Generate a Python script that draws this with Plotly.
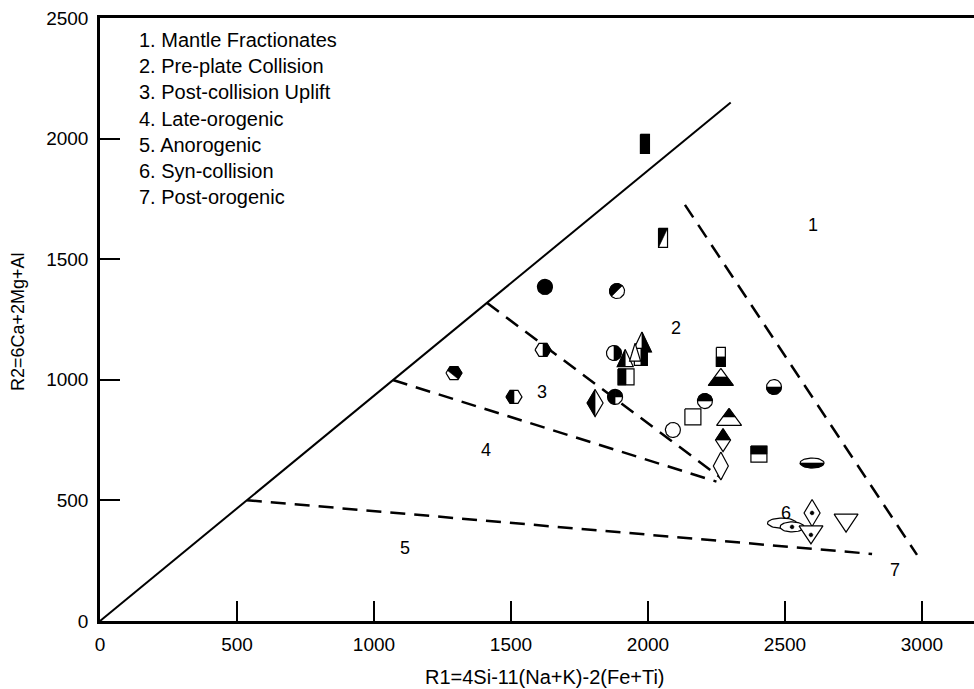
import math
import plotly.graph_objects as go

# ---------------- data ----------------
r1 = [1989, 2055, 1624, 1887, 1617, 1292, 1511, 1807, 1880, 1876,
      1978, 1974, 1917, 1953, 1920,
      2266, 2266, 2208, 2164, 2296, 2274, 2266, 2091, 2460, 2405, 2599,
      2489, 2526, 2599, 2595, 2723]
r2 = [1978, 1588, 1385, 1368, 1124, 1028, 929, 904, 929, 1111,
      1157, 1095, 1090, 1115, 1012,
      1095, 1012, 912, 846, 846, 750, 643, 792, 970, 692, 655,
      406, 390, 448, 357, 406]
symbol = ["rect_tall", "rect_tall", "circle", "circle", "hexagon", "hexagon", "hexagon", "diamond", "circle", "circle",
          "tri", "rect_mid", "tri_m", "tri_s", "square",
          "rect_tall", "tri_wide", "circle", "square", "tri_wide", "diamond_s", "diamond_l", "circle", "circle", "square", "ellipse",
          "ellipse_l", "ellipse", "diamond", "tri_down", "tri_down"]
fill = ["full", "diag_ul", "full", "diag_ul", "right", "diag_ur", "left", "left", "q3", "right",
        "right", "right", "left", "none", "left",
        "bottom", "bottom", "top", "none", "top", "top", "none", "none", "bottom", "top", "bottom",
        "none", "dot", "dot", "dot", "none"]

solid_x = [0, 2302]
solid_y = [0, 2150]
dash_lines_x = [[2135, 2982], [1412, 2270], [1069, 2250], [536, 2818]]
dash_lines_y = [[1725, 274], [1319, 590], [999, 578], [501, 278]]

field_labels = ["1", "2", "3", "4", "5", "6", "7"]
field_x = [2602, 2102, 1613, 1409, 1113, 2503, 2901]
field_y = [1642, 1215, 949, 709, 303, 448, 211]

legend_lines = ["1. Mantle Fractionates", "2. Pre-plate Collision", "3. Post-collision Uplift",
                "4. Late-orogenic", "5. Anorogenic", "6. Syn-collision", "7. Post-orogenic"]

x_ticks = [0, 500, 1000, 1500, 2000, 2500, 3000]
y_ticks = [0, 500, 1000, 1500, 2000, 2500]
x_title = "R1=4Si-11(Na+K)-2(Fe+Ti)"
y_title = "R2=6Ca+2Mg+Al"

# ---------------- layout constants ----------------
W, H = 974, 689
ML, MR, MT, MB = 100, 0, 18, 68
PW, PH = W - ML - MR, H - MT - MB
XMAX, YMAX = 3190, 2500
sx, sy = PW / XMAX, PH / YMAX
FONT = "Liberation Sans, Arial, Helvetica, sans-serif"

SIZES = {"rect_tall": (9, 19), "rect_mid": (13, 17), "square": (16, 16), "circle": (15, 15),
         "hexagon": (16, 13), "diamond": (16, 27), "diamond_s": (15, 23), "diamond_l": (15, 28),
         "tri": (19, 20), "tri_m": (16, 17), "tri_s": (11, 18), "tri_wide": (25, 17),
         "tri_down": (24, 18), "ellipse": (24, 10), "ellipse_l": (29, 10)}


def outline(kind, w, h):
    if kind.startswith("rect") or kind == "square":
        return [(-w / 2, -h / 2), (w / 2, -h / 2), (w / 2, h / 2), (-w / 2, h / 2)]
    if kind.startswith("circle") or kind.startswith("ellipse"):
        return [(w / 2 * math.cos(2 * math.pi * i / 48), h / 2 * math.sin(2 * math.pi * i / 48)) for i in range(48)]
    if kind == "hexagon":
        return [(-w / 2, 0), (-w / 4, -h / 2), (w / 4, -h / 2), (w / 2, 0), (w / 4, h / 2), (-w / 4, h / 2)]
    if kind.startswith("diamond"):
        return [(0, -h / 2), (w / 2, 0), (0, h / 2), (-w / 2, 0)]
    if kind == "tri_down":
        return [(-w / 2, -h / 2), (w / 2, -h / 2), (0, h / 2)]
    return [(0, -h / 2), (w / 2, h / 2), (-w / 2, h / 2)]


def clip(poly, a, b, c):
    out = []
    n = len(poly)
    for i in range(n):
        P, Q = poly[i], poly[(i + 1) % n]
        fp = a * P[0] + b * P[1] - c
        fq = a * Q[0] + b * Q[1] - c
        if fp <= 0:
            out.append(P)
        if fp * fq < 0:
            t = fp / (fp - fq)
            out.append((P[0] + t * (Q[0] - P[0]), P[1] + t * (Q[1] - P[1])))
    return out


def halfplanes(style, w, h):
    if style == "full":
        return [[]]
    if style == "left":
        return [[(1, 0, 0)]]
    if style == "right":
        return [[(-1, 0, 0)]]
    if style == "top":
        return [[(0, 1, 0)]]
    if style == "bottom":
        return [[(0, -1, 0)]]
    if style == "diag_ul":
        return [[(1 / w, 1 / h, 0)]]
    if style == "diag_ur":
        return [[(-1 / w, 1 / h, 0.2)]]
    if style == "q3":
        return [[(1, 0, 0)], [(-1, 0, 0), (0, 1, 0)]]
    return []


def to_data(cx, cy, pts):
    xs = [cx + p[0] / sx for p in pts]
    ys = [cy - p[1] / sy for p in pts]
    return xs + [xs[0]], ys + [ys[0]]


fig = go.Figure()

# boundary lines
fig.add_trace(go.Scatter(x=solid_x, y=solid_y, mode="lines", line=dict(color="black", width=2),
                         hoverinfo="skip"))
for lx, ly in zip(dash_lines_x, dash_lines_y):
    fig.add_trace(go.Scatter(x=lx, y=ly, mode="lines",
                             line=dict(color="black", width=2.5, dash="15px,9px"), hoverinfo="skip"))

# markers
for cx, cy, kind, style in zip(r1, r2, symbol, fill):
    w, h = SIZES[kind]
    base = outline(kind, w, h)
    bx, by = to_data(cx, cy, base)
    fig.add_trace(go.Scatter(x=bx, y=by, mode="lines", fill="toself", fillcolor="white",
                             line=dict(color="black", width=1.2), hoverinfo="skip"))
    for planes in halfplanes(style, w, h):
        poly = base
        for a, b, c in planes:
            poly = clip(poly, a, b, c)
        if len(poly) >= 3:
            px_, py_ = to_data(cx, cy, poly)
            fig.add_trace(go.Scatter(x=px_, y=py_, mode="lines", fill="toself", fillcolor="black",
                                     line=dict(color="black", width=0.6), hoverinfo="skip"))
    if style == "dot":
        dx_, dy_ = to_data(cx, cy, outline("circle", 4, 4))
        fig.add_trace(go.Scatter(x=dx_, y=dy_, mode="lines", fill="toself", fillcolor="black",
                                 line=dict(color="black", width=0.5), hoverinfo="skip"))

# hover points
fig.add_trace(go.Scatter(x=r1, y=r2, mode="markers", marker=dict(size=1, opacity=0), hoverinfo="x+y"))

annotations = []
for t, fx, fy in zip(field_labels, field_x, field_y):
    annotations.append(dict(x=fx, y=fy, xref="x", yref="y", text=t, showarrow=False,
                            font=dict(family=FONT, size=18, color="black")))
for i, t in enumerate(legend_lines):
    py = 40 + 26.2 * i
    annotations.append(dict(x=(137 - ML) / PW, y=(MT + PH - py) / PH, xref="paper", yref="paper",
                            text=t, showarrow=False, xanchor="left", yanchor="middle",
                            font=dict(family=FONT, size=20, color="black")))
annotations.append(dict(x=(545 - ML) / PW, y=(MT + PH - 677) / PH, xref="paper", yref="paper",
                        text=x_title, showarrow=False, xanchor="center", yanchor="middle",
                        font=dict(family=FONT, size=20, color="black")))
annotations.append(dict(x=(18 - ML) / PW, y=(MT + PH - 322) / PH, xref="paper", yref="paper",
                        text=y_title, showarrow=False, textangle=-90, xanchor="center", yanchor="middle",
                        font=dict(family=FONT, size=18, color="black")))

fig.update_layout(
    width=W, height=H, margin=dict(l=ML, r=MR, t=MT, b=MB),
    plot_bgcolor="white", paper_bgcolor="white", showlegend=False,
    annotations=annotations,
    xaxis=dict(range=[0, XMAX], showgrid=False, zeroline=False, showline=True, linecolor="black",
               linewidth=2.5, mirror=True, ticks="inside", ticklen=20, tickwidth=2, tickcolor="black",
               tickvals=x_ticks, ticktext=[str(v) for v in x_ticks], ticklabelstandoff=4,
               tickfont=dict(family=FONT, size=19, color="black")),
    yaxis=dict(range=[0, YMAX], showgrid=False, zeroline=False, showline=True, linecolor="black",
               linewidth=2.5, ticks="inside", ticklen=20, tickwidth=2, tickcolor="black",
               tickvals=y_ticks, ticktext=[str(v) for v in y_ticks], ticklabelstandoff=5,
               tickfont=dict(family=FONT, size=19, color="black")),
)

fig.write_html("out.html")
